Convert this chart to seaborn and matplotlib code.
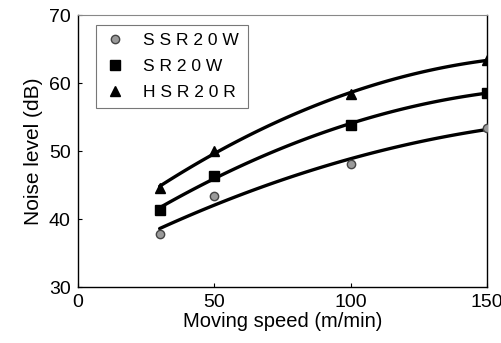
import matplotlib
matplotlib.use("Agg")
import matplotlib.pyplot as plt
import seaborn as sns
import pandas as pd

speed = [30, 50, 100, 150]
ssr20w = [37.8, 43.4, 48.1, 53.4]
sr20w = [41.4, 46.4, 53.8, 58.6]
hsr20r = [44.6, 50.0, 58.4, 63.4]
labels = ["S S R 2 0 W", "S R 2 0 W", "H S R 2 0 R"]

sns.set_style("white")
plt.rcParams['font.family'] = ['Liberation Sans', 'DejaVu Sans']
plt.rcParams['text.color'] = 'black'
plt.rcParams['axes.labelcolor'] = 'black'
plt.rcParams['xtick.color'] = 'black'
plt.rcParams['ytick.color'] = 'black'

fig = plt.figure(figsize=(5.02, 3.43), dpi=100)
ax = fig.add_axes([0.155, 0.163, 0.815, 0.793])

series = [
    (ssr20w, labels[0], dict(marker='o', color='#9a9a9a', markeredgecolor='#444444', markersize=6)),
    (sr20w, labels[1], dict(marker='s', color='black', markeredgecolor='black', markersize=7)),
    (hsr20r, labels[2], dict(marker='^', color='black', markeredgecolor='black', markersize=7.5)),
]
for vals, lab, st in series:
    df = pd.DataFrame({"x": speed, "y": vals})
    sns.regplot(data=df, x="x", y="y", order=2, ci=None, scatter=False, truncate=True,
                ax=ax, line_kws=dict(color='black', lw=2.4))
    ax.plot(speed, vals, linestyle='none', label=lab, zorder=5, **st)

ax.set_xlim(0, 150)
ax.set_ylim(30, 70)
ax.set_xticks([0, 50, 100, 150])
ax.set_yticks([30, 40, 50, 60, 70])
ax.tick_params(direction='in', length=3, width=0.8, labelsize=14, pad=5, color='black',
               labelcolor='black', left=True, bottom=True)
ax.set_xlabel("Moving speed (m/min)", fontsize=14.5, labelpad=1, color='black')
ax.set_ylabel("Noise level (dB)", fontsize=15, labelpad=4, color='black')
for s in ['left', 'bottom', 'right']:
    ax.spines[s].set_color('black')
    ax.spines[s].set_linewidth(1.0)
ax.spines['top'].set_color('#888888')
ax.spines['top'].set_linewidth(0.8)

leg = ax.legend(loc='upper left', bbox_to_anchor=(0.045, 0.965), fontsize=12.5,
                frameon=True, fancybox=False, edgecolor='#555555', borderpad=0.5,
                labelspacing=0.6, handletextpad=1.0, handlelength=1.2, borderaxespad=0)
leg.get_frame().set_linewidth(0.8)
for t in leg.get_texts():
    t.set_color('black')

fig.savefig("out.png", dpi=100)
